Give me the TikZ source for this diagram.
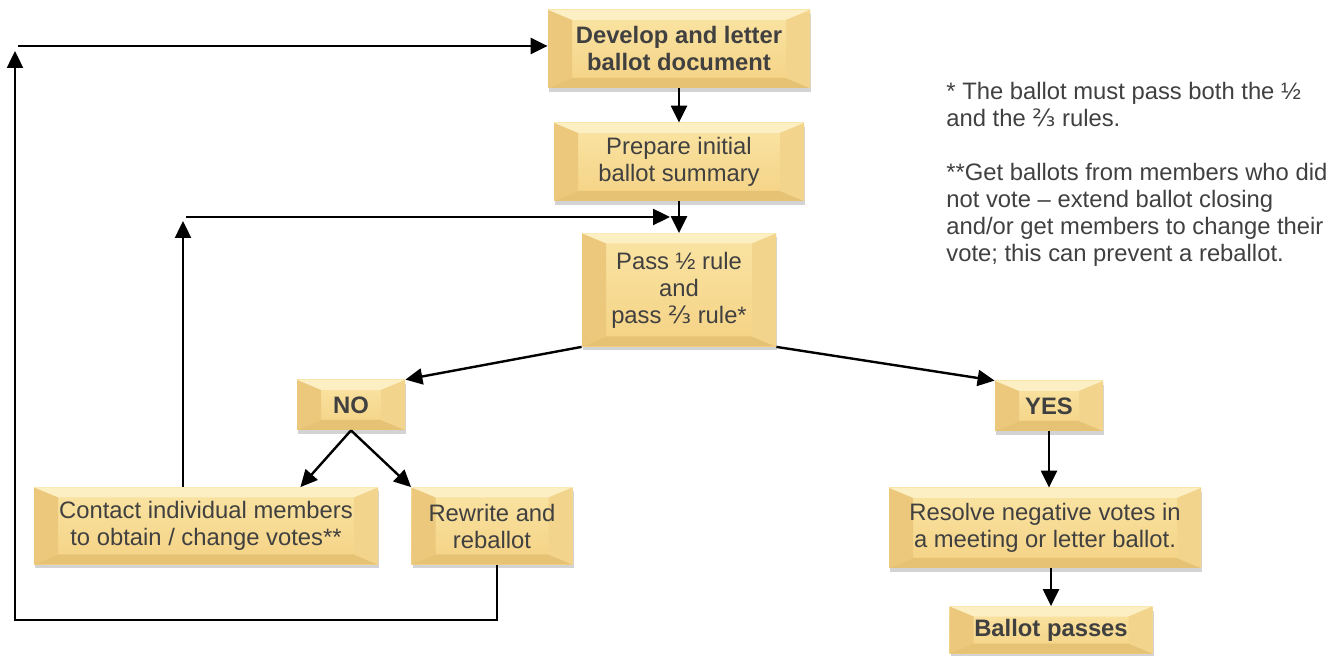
\documentclass[tikz,border=0pt]{standalone}
\usepackage{fontspec}
\setmainfont{Liberation Sans}
\newfontfamily\fracfont{DejaVu Sans}
\usetikzlibrary{arrows.meta,positioning,calc,shadows}

\definecolor{gmid}{RGB}{247,217,142}
\definecolor{gtopc}{RGB}{250,228,164}
\definecolor{gbotc}{RGB}{244,210,132}
\definecolor{glight}{RGB}{252,239,196}
\definecolor{gleft}{RGB}{236,200,124}
\definecolor{gright}{RGB}{242,212,140}
\definecolor{gdark}{RGB}{230,194,116}
\definecolor{gtext}{RGB}{64,64,64}

\tikzset{
  gbox/.style={top color=gtopc, bottom color=gbotc, text=gtext, align=center, inner sep=2pt,
    font=\fontsize{11.9}{13.5}\selectfont,
    drop shadow={shadow xshift=0.5pt, shadow yshift=-2pt, opacity=0.35, fill=gray},
    path picture={
      \coordinate (bnw) at (path picture bounding box.north west);
      \coordinate (bne) at (path picture bounding box.north east);
      \coordinate (bsw) at (path picture bounding box.south west);
      \coordinate (bse) at (path picture bounding box.south east);
      \fill[glight] (bnw) -- (bne) -- ([shift={(-12pt,-5pt)}]bne) -- ([shift={(12pt,-5pt)}]bnw) -- cycle;
      \fill[gdark] (bsw) -- (bse) -- ([shift={(-12pt,5pt)}]bse) -- ([shift={(12pt,5pt)}]bsw) -- cycle;
      \fill[gleft] (bnw) -- (bsw) -- ([shift={(12pt,5pt)}]bsw) -- ([shift={(12pt,-5pt)}]bnw) -- cycle;
      \fill[gright] (bne) -- (bse) -- ([shift={(-12pt,5pt)}]bse) -- ([shift={(-12pt,-5pt)}]bne) -- cycle;
    }},
  gboxb/.style={gbox, font=\fontsize{11.9}{13.5}\selectfont\bfseries},
  flow/.style={-{Triangle[length=8.5pt,width=8pt]}, line width=1.2pt},
}

\begin{document}
\begin{tikzpicture}[x=0.5pt, y=-0.5pt]
\useasboundingbox (0,0) rectangle (1342,656);

% boxes
\node[gboxb, minimum width=131pt, minimum height=39pt] (dev) at (679,49) {Develop and letter\\ballot document};
\node[gbox, minimum width=125pt, minimum height=39pt] (prep) at (679,162) {Prepare initial\\ballot summary};
\node[gbox, minimum width=97pt, minimum height=56.5pt] (pass) at (679,290) {Pass ½ rule\\and\\pass {\fracfont ⅔} rule*};
\node[gboxb, minimum width=54pt, minimum height=25pt] (no) at (351,405) {NO};
\node[gboxb, minimum width=54pt, minimum height=25pt] (yes) at (1049,406) {YES};
\node[gbox, minimum width=172pt, minimum height=38.5pt] (contact) at (206,526) {Contact individual members\\to obtain / change votes**};
\node[gbox, minimum width=80.5pt, minimum height=38.5pt] (rewrite) at (492,526) {Rewrite and\\reballot};
\node[gbox, minimum width=156pt, minimum height=40pt] (resolve) at (1045,528) {Resolve negative votes in\\a meeting or letter ballot.};
\node[gboxb, minimum width=101.5pt, minimum height=23.5pt] (passes) at (1051,630) {Ballot passes};

% notes
\node[anchor=north west, inner sep=0pt, align=left, text=gtext, font=\fontsize{11.9}{13.5}\selectfont] (notes) at (946,82)
  {* The ballot must pass both the ½\\and the {\fracfont ⅔} rules.\\[13.5pt]**Get ballots from members who did\\not vote – extend ballot closing\\and/or get members to change their\\vote; this can prevent a reballot.};

% connectors
\coordinate (cup) at (183,221);
\coordinate (cin) at (186,217);
\coordinate (cend) at (670,217);
\coordinate (lbot) at (15,620);
\coordinate (ltop) at (15,51);
\coordinate (lin) at (18,46);

\draw[flow] (dev) -- (prep);
\draw[flow] (prep) -- (pass);
\draw[flow] (pass.south west) -- (no.north east);
\draw[flow] (pass.south east) -- (yes.north west);
\draw[flow] (no.south) -- ([xshift=-39pt]contact.north east);
\draw[flow] (no.south) -- (rewrite.north west);
\draw[flow] (yes.south) -- (yes.south |- resolve.north);
\draw[flow] (passes.north |- resolve.south) -- (passes.north);
\draw[flow] (contact.north -| cup) -- (cup);
\draw[flow] (cin) -- (cend);
\draw[flow] ([xshift=2.5pt]rewrite.south) |- (lbot) -- (ltop);
\draw[flow] (lin) -- (dev.west |- lin);
\end{tikzpicture}
\end{document}
